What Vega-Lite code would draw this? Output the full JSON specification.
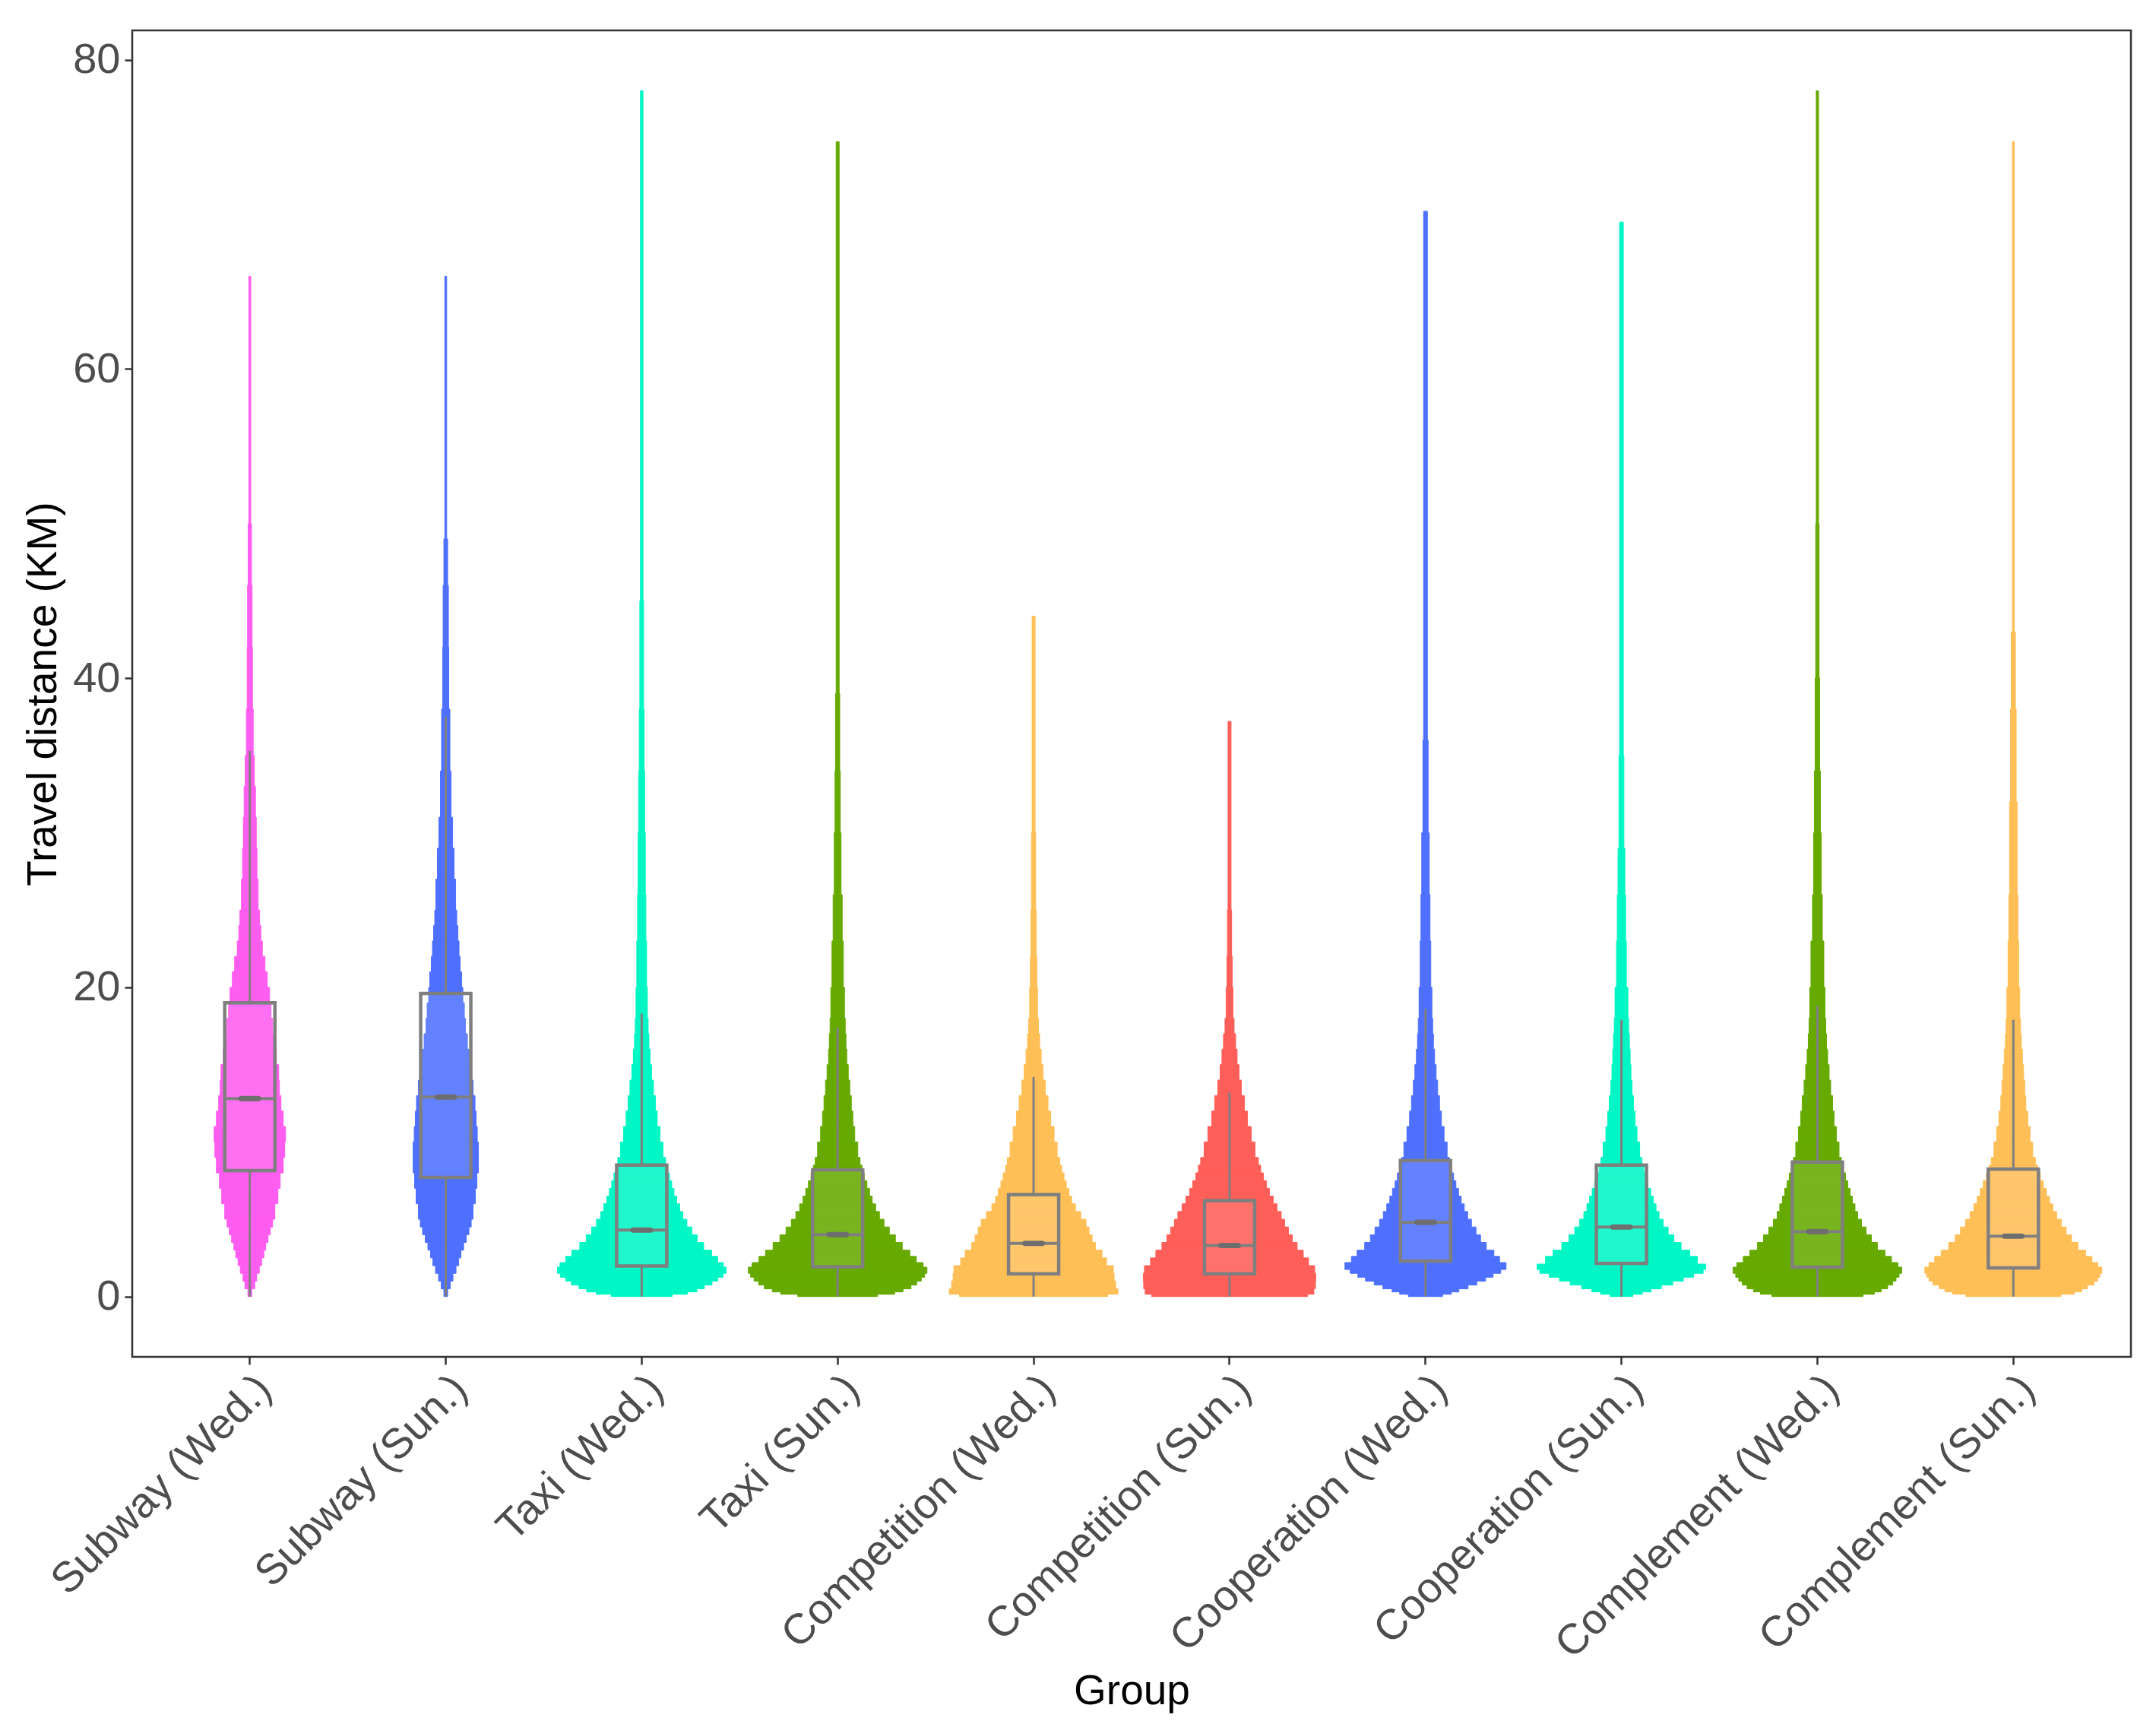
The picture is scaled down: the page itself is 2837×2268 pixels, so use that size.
{
  "$schema": "https://vega.github.io/schema/vega-lite/v6.json",
  "width": 2630,
  "height": 1745,
  "autosize": {"type": "none"},
  "padding": {"left": 174, "top": 40, "right": 33, "bottom": 483},
  "background": "white",
  "config": {
    "view": {"stroke": "#333333", "strokeWidth": 2.5},
    "font": "Liberation Sans",
    "axis": {
      "grid": false,
      "domain": false,
      "tickColor": "#333333",
      "tickWidth": 2.5,
      "tickSize": 10,
      "labelColor": "#4d4d4d",
      "labelFontSize": 56,
      "labelLimit": 1000,
      "labelFont": "Liberation Sans",
      "titleFont": "Liberation Sans",
      "titleFontSize": 55,
      "titleFontWeight": "normal",
      "titleColor": "#000000"
    }
  },
  "datasets": {
    "violin": [
      {"g":"Subway (Wed.)","y":0,"y2":0.5,"d":2},{"g":"Subway (Wed.)","y":0.5,"y2":1,"d":5.2},{"g":"Subway (Wed.)","y":1,"y2":1.5,"d":7.2},{"g":"Subway (Wed.)","y":1.5,"y2":2,"d":10},{"g":"Subway (Wed.)","y":2,"y2":2.5,"d":12.4},{"g":"Subway (Wed.)","y":2.5,"y2":3,"d":14.8},{"g":"Subway (Wed.)","y":3,"y2":3.5,"d":16.8},{"g":"Subway (Wed.)","y":3.5,"y2":4,"d":19.2},{"g":"Subway (Wed.)","y":4,"y2":4.5,"d":21.6},{"g":"Subway (Wed.)","y":4.5,"y2":5,"d":24},{"g":"Subway (Wed.)","y":5,"y2":6,"d":26.4},{"g":"Subway (Wed.)","y":6,"y2":7,"d":29.6},{"g":"Subway (Wed.)","y":7,"y2":8,"d":32},{"g":"Subway (Wed.)","y":8,"y2":9,"d":35.2},{"g":"Subway (Wed.)","y":9,"y2":10,"d":36.8},{"g":"Subway (Wed.)","y":10,"y2":11,"d":37.6},{"g":"Subway (Wed.)","y":11,"y2":12,"d":35.2},{"g":"Subway (Wed.)","y":12,"y2":13,"d":32.8},{"g":"Subway (Wed.)","y":13,"y2":14,"d":31.2},{"g":"Subway (Wed.)","y":14,"y2":15,"d":30.4},{"g":"Subway (Wed.)","y":15,"y2":16,"d":28},{"g":"Subway (Wed.)","y":16,"y2":17,"d":25.6},{"g":"Subway (Wed.)","y":17,"y2":18,"d":24},{"g":"Subway (Wed.)","y":18,"y2":19,"d":22.4},{"g":"Subway (Wed.)","y":19,"y2":20,"d":20.8},{"g":"Subway (Wed.)","y":20,"y2":21,"d":18.4},{"g":"Subway (Wed.)","y":21,"y2":22,"d":16},{"g":"Subway (Wed.)","y":22,"y2":23,"d":13.2},{"g":"Subway (Wed.)","y":23,"y2":24,"d":11.6},{"g":"Subway (Wed.)","y":24,"y2":25,"d":10.4},{"g":"Subway (Wed.)","y":25,"y2":27,"d":8.8},{"g":"Subway (Wed.)","y":27,"y2":29,"d":7.6},{"g":"Subway (Wed.)","y":29,"y2":31,"d":6.8},{"g":"Subway (Wed.)","y":31,"y2":33,"d":6},{"g":"Subway (Wed.)","y":33,"y2":35,"d":4.8},{"g":"Subway (Wed.)","y":35,"y2":38,"d":3.6},{"g":"Subway (Wed.)","y":38,"y2":42,"d":2.8},{"g":"Subway (Wed.)","y":42,"y2":46,"d":2.4},{"g":"Subway (Wed.)","y":46,"y2":50,"d":1.8},{"g":"Subway (Wed.)","y":50,"y2":66,"d":1},
      {"g":"Subway (Sun.)","y":0,"y2":0.5,"d":2},{"g":"Subway (Sun.)","y":0.5,"y2":1,"d":4.8},{"g":"Subway (Sun.)","y":1,"y2":1.5,"d":7.6},{"g":"Subway (Sun.)","y":1.5,"y2":2,"d":10.8},{"g":"Subway (Sun.)","y":2,"y2":2.5,"d":13.6},{"g":"Subway (Sun.)","y":2.5,"y2":3,"d":16},{"g":"Subway (Sun.)","y":3,"y2":3.5,"d":18.8},{"g":"Subway (Sun.)","y":3.5,"y2":4,"d":21.6},{"g":"Subway (Sun.)","y":4,"y2":4.5,"d":24.4},{"g":"Subway (Sun.)","y":4.5,"y2":5,"d":26.8},{"g":"Subway (Sun.)","y":5,"y2":6,"d":28.8},{"g":"Subway (Sun.)","y":6,"y2":7,"d":31.2},{"g":"Subway (Sun.)","y":7,"y2":8,"d":32.8},{"g":"Subway (Sun.)","y":8,"y2":9,"d":34.4},{"g":"Subway (Sun.)","y":9,"y2":10,"d":34.4},{"g":"Subway (Sun.)","y":10,"y2":11,"d":33.2},{"g":"Subway (Sun.)","y":11,"y2":12,"d":32},{"g":"Subway (Sun.)","y":12,"y2":13,"d":30.8},{"g":"Subway (Sun.)","y":13,"y2":14,"d":28.8},{"g":"Subway (Sun.)","y":14,"y2":15,"d":26.8},{"g":"Subway (Sun.)","y":15,"y2":16,"d":24.8},{"g":"Subway (Sun.)","y":16,"y2":17,"d":22.8},{"g":"Subway (Sun.)","y":17,"y2":18,"d":20.8},{"g":"Subway (Sun.)","y":18,"y2":19,"d":19.6},{"g":"Subway (Sun.)","y":19,"y2":20,"d":18},{"g":"Subway (Sun.)","y":20,"y2":21,"d":16.8},{"g":"Subway (Sun.)","y":21,"y2":22,"d":15.2},{"g":"Subway (Sun.)","y":22,"y2":23,"d":14},{"g":"Subway (Sun.)","y":23,"y2":24,"d":12.8},{"g":"Subway (Sun.)","y":24,"y2":25,"d":11.6},{"g":"Subway (Sun.)","y":25,"y2":27,"d":10.4},{"g":"Subway (Sun.)","y":27,"y2":29,"d":8.8},{"g":"Subway (Sun.)","y":29,"y2":31,"d":7.2},{"g":"Subway (Sun.)","y":31,"y2":34,"d":5.6},{"g":"Subway (Sun.)","y":34,"y2":38,"d":4.4},{"g":"Subway (Sun.)","y":38,"y2":42,"d":3.2},{"g":"Subway (Sun.)","y":42,"y2":46,"d":2.8},{"g":"Subway (Sun.)","y":46,"y2":49,"d":2},{"g":"Subway (Sun.)","y":49,"y2":66,"d":1},
      {"g":"Taxi (Wed.)","y":0,"y2":0.15,"d":32},{"g":"Taxi (Wed.)","y":0.15,"y2":0.3,"d":48},{"g":"Taxi (Wed.)","y":0.3,"y2":0.5,"d":58},{"g":"Taxi (Wed.)","y":0.5,"y2":0.75,"d":66},{"g":"Taxi (Wed.)","y":0.75,"y2":1,"d":74},{"g":"Taxi (Wed.)","y":1,"y2":1.25,"d":80},{"g":"Taxi (Wed.)","y":1.25,"y2":1.5,"d":85.6},{"g":"Taxi (Wed.)","y":1.5,"y2":1.9,"d":88.8},{"g":"Taxi (Wed.)","y":1.9,"y2":2.2,"d":86},{"g":"Taxi (Wed.)","y":2.2,"y2":2.6,"d":80},{"g":"Taxi (Wed.)","y":2.6,"y2":3,"d":73.6},{"g":"Taxi (Wed.)","y":3,"y2":3.5,"d":65.2},{"g":"Taxi (Wed.)","y":3.5,"y2":4,"d":58.4},{"g":"Taxi (Wed.)","y":4,"y2":4.5,"d":52.8},{"g":"Taxi (Wed.)","y":4.5,"y2":5,"d":47.6},{"g":"Taxi (Wed.)","y":5,"y2":5.5,"d":43.2},{"g":"Taxi (Wed.)","y":5.5,"y2":6,"d":40},{"g":"Taxi (Wed.)","y":6,"y2":6.5,"d":36.8},{"g":"Taxi (Wed.)","y":6.5,"y2":7,"d":34},{"g":"Taxi (Wed.)","y":7,"y2":7.5,"d":31.6},{"g":"Taxi (Wed.)","y":7.5,"y2":8,"d":29.2},{"g":"Taxi (Wed.)","y":8,"y2":8.5,"d":26.8},{"g":"Taxi (Wed.)","y":8.5,"y2":9,"d":25.2},{"g":"Taxi (Wed.)","y":9,"y2":10,"d":22.4},{"g":"Taxi (Wed.)","y":10,"y2":11,"d":19.2},{"g":"Taxi (Wed.)","y":11,"y2":12,"d":16.4},{"g":"Taxi (Wed.)","y":12,"y2":13,"d":14.4},{"g":"Taxi (Wed.)","y":13,"y2":14,"d":12.4},{"g":"Taxi (Wed.)","y":14,"y2":15,"d":10.4},{"g":"Taxi (Wed.)","y":15,"y2":16,"d":8.8},{"g":"Taxi (Wed.)","y":16,"y2":17,"d":7.6},{"g":"Taxi (Wed.)","y":17,"y2":18,"d":6.8},{"g":"Taxi (Wed.)","y":18,"y2":20,"d":6},{"g":"Taxi (Wed.)","y":20,"y2":23,"d":5.2},{"g":"Taxi (Wed.)","y":23,"y2":26,"d":4.4},{"g":"Taxi (Wed.)","y":26,"y2":30,"d":3.8},{"g":"Taxi (Wed.)","y":30,"y2":34,"d":3.2},{"g":"Taxi (Wed.)","y":34,"y2":38,"d":2.6},{"g":"Taxi (Wed.)","y":38,"y2":45,"d":2},{"g":"Taxi (Wed.)","y":45,"y2":78,"d":1.4},
      {"g":"Taxi (Sun.)","y":0,"y2":0.15,"d":42},{"g":"Taxi (Sun.)","y":0.15,"y2":0.3,"d":60},{"g":"Taxi (Sun.)","y":0.3,"y2":0.5,"d":68.8},{"g":"Taxi (Sun.)","y":0.5,"y2":0.75,"d":77.2},{"g":"Taxi (Sun.)","y":0.75,"y2":1,"d":83.2},{"g":"Taxi (Sun.)","y":1,"y2":1.25,"d":88},{"g":"Taxi (Sun.)","y":1.25,"y2":1.5,"d":91.6},{"g":"Taxi (Sun.)","y":1.5,"y2":1.9,"d":94},{"g":"Taxi (Sun.)","y":1.9,"y2":2.2,"d":90},{"g":"Taxi (Sun.)","y":2.2,"y2":2.6,"d":82.8},{"g":"Taxi (Sun.)","y":2.6,"y2":3,"d":76},{"g":"Taxi (Sun.)","y":3,"y2":3.5,"d":68},{"g":"Taxi (Sun.)","y":3.5,"y2":4,"d":60.8},{"g":"Taxi (Sun.)","y":4,"y2":4.5,"d":54.4},{"g":"Taxi (Sun.)","y":4.5,"y2":5,"d":48.8},{"g":"Taxi (Sun.)","y":5,"y2":5.5,"d":44},{"g":"Taxi (Sun.)","y":5.5,"y2":6,"d":40},{"g":"Taxi (Sun.)","y":6,"y2":6.5,"d":36.4},{"g":"Taxi (Sun.)","y":6.5,"y2":7,"d":33.6},{"g":"Taxi (Sun.)","y":7,"y2":7.5,"d":30.8},{"g":"Taxi (Sun.)","y":7.5,"y2":8,"d":28},{"g":"Taxi (Sun.)","y":8,"y2":8.5,"d":25.6},{"g":"Taxi (Sun.)","y":8.5,"y2":9,"d":23.6},{"g":"Taxi (Sun.)","y":9,"y2":10,"d":21.2},{"g":"Taxi (Sun.)","y":10,"y2":11,"d":18},{"g":"Taxi (Sun.)","y":11,"y2":12,"d":16},{"g":"Taxi (Sun.)","y":12,"y2":13,"d":14.4},{"g":"Taxi (Sun.)","y":13,"y2":14,"d":12.8},{"g":"Taxi (Sun.)","y":14,"y2":15,"d":11.2},{"g":"Taxi (Sun.)","y":15,"y2":16,"d":9.6},{"g":"Taxi (Sun.)","y":16,"y2":17,"d":8.8},{"g":"Taxi (Sun.)","y":17,"y2":18,"d":8},{"g":"Taxi (Sun.)","y":18,"y2":20,"d":7.2},{"g":"Taxi (Sun.)","y":20,"y2":23,"d":6},{"g":"Taxi (Sun.)","y":23,"y2":26,"d":4.8},{"g":"Taxi (Sun.)","y":26,"y2":30,"d":3.6},{"g":"Taxi (Sun.)","y":30,"y2":34,"d":2.8},{"g":"Taxi (Sun.)","y":34,"y2":39,"d":2.2},{"g":"Taxi (Sun.)","y":39,"y2":74.7,"d":1.6},
      {"g":"Competition (Wed.)","y":0,"y2":0.15,"d":78},{"g":"Competition (Wed.)","y":0.15,"y2":0.5,"d":88.8},{"g":"Competition (Wed.)","y":0.5,"y2":1,"d":86.4},{"g":"Competition (Wed.)","y":1,"y2":1.5,"d":84.8},{"g":"Competition (Wed.)","y":1.5,"y2":2,"d":84},{"g":"Competition (Wed.)","y":2,"y2":2.5,"d":76.8},{"g":"Competition (Wed.)","y":2.5,"y2":3,"d":72},{"g":"Competition (Wed.)","y":3,"y2":3.5,"d":65.2},{"g":"Competition (Wed.)","y":3.5,"y2":4,"d":61.6},{"g":"Competition (Wed.)","y":4,"y2":4.5,"d":58.4},{"g":"Competition (Wed.)","y":4.5,"y2":5,"d":55.2},{"g":"Competition (Wed.)","y":5,"y2":5.5,"d":49.6},{"g":"Competition (Wed.)","y":5.5,"y2":6,"d":44},{"g":"Competition (Wed.)","y":6,"y2":6.5,"d":40},{"g":"Competition (Wed.)","y":6.5,"y2":7,"d":37.2},{"g":"Competition (Wed.)","y":7,"y2":7.5,"d":34.4},{"g":"Competition (Wed.)","y":7.5,"y2":8,"d":32},{"g":"Competition (Wed.)","y":8,"y2":8.5,"d":29.6},{"g":"Competition (Wed.)","y":8.5,"y2":9,"d":27.6},{"g":"Competition (Wed.)","y":9,"y2":10,"d":24.8},{"g":"Competition (Wed.)","y":10,"y2":11,"d":21.6},{"g":"Competition (Wed.)","y":11,"y2":12,"d":18},{"g":"Competition (Wed.)","y":12,"y2":13,"d":15.2},{"g":"Competition (Wed.)","y":13,"y2":14,"d":12.4},{"g":"Competition (Wed.)","y":14,"y2":15,"d":10},{"g":"Competition (Wed.)","y":15,"y2":16,"d":8},{"g":"Competition (Wed.)","y":16,"y2":17,"d":6.4},{"g":"Competition (Wed.)","y":17,"y2":18,"d":5.2},{"g":"Competition (Wed.)","y":18,"y2":20,"d":4.2},{"g":"Competition (Wed.)","y":20,"y2":22,"d":3.4},{"g":"Competition (Wed.)","y":22,"y2":25,"d":2.8},{"g":"Competition (Wed.)","y":25,"y2":30,"d":2.2},{"g":"Competition (Wed.)","y":30,"y2":44,"d":1.6},
      {"g":"Competition (Sun.)","y":0,"y2":0.15,"d":82},{"g":"Competition (Sun.)","y":0.15,"y2":0.5,"d":88.8},{"g":"Competition (Sun.)","y":0.5,"y2":1,"d":90.4},{"g":"Competition (Sun.)","y":1,"y2":1.5,"d":90.8},{"g":"Competition (Sun.)","y":1.5,"y2":2,"d":89.6},{"g":"Competition (Sun.)","y":2,"y2":2.5,"d":83.2},{"g":"Competition (Sun.)","y":2.5,"y2":3,"d":77.6},{"g":"Competition (Sun.)","y":3,"y2":3.5,"d":71.2},{"g":"Competition (Sun.)","y":3.5,"y2":4,"d":66},{"g":"Competition (Sun.)","y":4,"y2":4.5,"d":62},{"g":"Competition (Sun.)","y":4.5,"y2":5,"d":58},{"g":"Competition (Sun.)","y":5,"y2":5.5,"d":54.4},{"g":"Competition (Sun.)","y":5.5,"y2":6,"d":50},{"g":"Competition (Sun.)","y":6,"y2":6.5,"d":46},{"g":"Competition (Sun.)","y":6.5,"y2":7,"d":42},{"g":"Competition (Sun.)","y":7,"y2":7.5,"d":38.8},{"g":"Competition (Sun.)","y":7.5,"y2":8,"d":35.6},{"g":"Competition (Sun.)","y":8,"y2":8.5,"d":32.8},{"g":"Competition (Sun.)","y":8.5,"y2":9,"d":30.4},{"g":"Competition (Sun.)","y":9,"y2":10,"d":26.8},{"g":"Competition (Sun.)","y":10,"y2":11,"d":22.8},{"g":"Competition (Sun.)","y":11,"y2":12,"d":18.8},{"g":"Competition (Sun.)","y":12,"y2":13,"d":15.6},{"g":"Competition (Sun.)","y":13,"y2":14,"d":12.4},{"g":"Competition (Sun.)","y":14,"y2":15,"d":10},{"g":"Competition (Sun.)","y":15,"y2":16,"d":8},{"g":"Competition (Sun.)","y":16,"y2":17,"d":6.4},{"g":"Competition (Sun.)","y":17,"y2":18,"d":4.8},{"g":"Competition (Sun.)","y":18,"y2":20,"d":3.6},{"g":"Competition (Sun.)","y":20,"y2":22,"d":2.8},{"g":"Competition (Sun.)","y":22,"y2":25,"d":2.2},{"g":"Competition (Sun.)","y":25,"y2":37.2,"d":1.6},
      {"g":"Cooperation (Wed.)","y":0,"y2":0.15,"d":18},{"g":"Cooperation (Wed.)","y":0.15,"y2":0.3,"d":27.2},{"g":"Cooperation (Wed.)","y":0.3,"y2":0.5,"d":35.2},{"g":"Cooperation (Wed.)","y":0.5,"y2":0.75,"d":44.8},{"g":"Cooperation (Wed.)","y":0.75,"y2":1,"d":54},{"g":"Cooperation (Wed.)","y":1,"y2":1.25,"d":63.2},{"g":"Cooperation (Wed.)","y":1.25,"y2":1.5,"d":71.2},{"g":"Cooperation (Wed.)","y":1.5,"y2":1.75,"d":79.2},{"g":"Cooperation (Wed.)","y":1.75,"y2":2.2,"d":84.8},{"g":"Cooperation (Wed.)","y":2.2,"y2":2.6,"d":78},{"g":"Cooperation (Wed.)","y":2.6,"y2":3,"d":72},{"g":"Cooperation (Wed.)","y":3,"y2":3.5,"d":64},{"g":"Cooperation (Wed.)","y":3.5,"y2":4,"d":58},{"g":"Cooperation (Wed.)","y":4,"y2":4.5,"d":53.2},{"g":"Cooperation (Wed.)","y":4.5,"y2":5,"d":48.4},{"g":"Cooperation (Wed.)","y":5,"y2":5.5,"d":44.4},{"g":"Cooperation (Wed.)","y":5.5,"y2":6,"d":40.8},{"g":"Cooperation (Wed.)","y":6,"y2":6.5,"d":37.6},{"g":"Cooperation (Wed.)","y":6.5,"y2":7,"d":34.8},{"g":"Cooperation (Wed.)","y":7,"y2":7.5,"d":32},{"g":"Cooperation (Wed.)","y":7.5,"y2":8,"d":29.6},{"g":"Cooperation (Wed.)","y":8,"y2":8.5,"d":27.2},{"g":"Cooperation (Wed.)","y":8.5,"y2":9,"d":25.2},{"g":"Cooperation (Wed.)","y":9,"y2":10,"d":22.8},{"g":"Cooperation (Wed.)","y":10,"y2":11,"d":19.6},{"g":"Cooperation (Wed.)","y":11,"y2":12,"d":16.8},{"g":"Cooperation (Wed.)","y":12,"y2":13,"d":14.8},{"g":"Cooperation (Wed.)","y":13,"y2":14,"d":12.8},{"g":"Cooperation (Wed.)","y":14,"y2":15,"d":11.2},{"g":"Cooperation (Wed.)","y":15,"y2":16,"d":9.6},{"g":"Cooperation (Wed.)","y":16,"y2":17,"d":8.4},{"g":"Cooperation (Wed.)","y":17,"y2":18,"d":7.6},{"g":"Cooperation (Wed.)","y":18,"y2":20,"d":6.8},{"g":"Cooperation (Wed.)","y":20,"y2":23,"d":5.6},{"g":"Cooperation (Wed.)","y":23,"y2":26,"d":4.8},{"g":"Cooperation (Wed.)","y":26,"y2":30,"d":4},{"g":"Cooperation (Wed.)","y":30,"y2":36,"d":2.8},{"g":"Cooperation (Wed.)","y":36,"y2":70.2,"d":2},
      {"g":"Cooperation (Sun.)","y":0,"y2":0.15,"d":12},{"g":"Cooperation (Sun.)","y":0.15,"y2":0.3,"d":22},{"g":"Cooperation (Sun.)","y":0.3,"y2":0.5,"d":31.2},{"g":"Cooperation (Sun.)","y":0.5,"y2":0.75,"d":42},{"g":"Cooperation (Sun.)","y":0.75,"y2":1,"d":54},{"g":"Cooperation (Sun.)","y":1,"y2":1.25,"d":65.2},{"g":"Cooperation (Sun.)","y":1.25,"y2":1.5,"d":76},{"g":"Cooperation (Sun.)","y":1.5,"y2":1.75,"d":86},{"g":"Cooperation (Sun.)","y":1.75,"y2":2.1,"d":88.8},{"g":"Cooperation (Sun.)","y":2.1,"y2":2.6,"d":80},{"g":"Cooperation (Sun.)","y":2.6,"y2":3,"d":72},{"g":"Cooperation (Sun.)","y":3,"y2":3.5,"d":62.8},{"g":"Cooperation (Sun.)","y":3.5,"y2":4,"d":55.2},{"g":"Cooperation (Sun.)","y":4,"y2":4.5,"d":49.2},{"g":"Cooperation (Sun.)","y":4.5,"y2":5,"d":44},{"g":"Cooperation (Sun.)","y":5,"y2":5.5,"d":39.6},{"g":"Cooperation (Sun.)","y":5.5,"y2":6,"d":36.4},{"g":"Cooperation (Sun.)","y":6,"y2":6.5,"d":33.6},{"g":"Cooperation (Sun.)","y":6.5,"y2":7,"d":30.8},{"g":"Cooperation (Sun.)","y":7,"y2":7.5,"d":28},{"g":"Cooperation (Sun.)","y":7.5,"y2":8,"d":25.6},{"g":"Cooperation (Sun.)","y":8,"y2":8.5,"d":23.6},{"g":"Cooperation (Sun.)","y":8.5,"y2":9,"d":21.6},{"g":"Cooperation (Sun.)","y":9,"y2":10,"d":19.2},{"g":"Cooperation (Sun.)","y":10,"y2":11,"d":16.4},{"g":"Cooperation (Sun.)","y":11,"y2":12,"d":14.4},{"g":"Cooperation (Sun.)","y":12,"y2":13,"d":12.8},{"g":"Cooperation (Sun.)","y":13,"y2":14,"d":11.2},{"g":"Cooperation (Sun.)","y":14,"y2":15,"d":10},{"g":"Cooperation (Sun.)","y":15,"y2":16,"d":9.2},{"g":"Cooperation (Sun.)","y":16,"y2":17,"d":8.4},{"g":"Cooperation (Sun.)","y":17,"y2":18,"d":7.6},{"g":"Cooperation (Sun.)","y":18,"y2":20,"d":6.8},{"g":"Cooperation (Sun.)","y":20,"y2":23,"d":5.2},{"g":"Cooperation (Sun.)","y":23,"y2":26,"d":4.4},{"g":"Cooperation (Sun.)","y":26,"y2":29,"d":3.6},{"g":"Cooperation (Sun.)","y":29,"y2":35,"d":2.6},{"g":"Cooperation (Sun.)","y":35,"y2":69.5,"d":2},
      {"g":"Complement (Wed.)","y":0,"y2":0.15,"d":48},{"g":"Complement (Wed.)","y":0.15,"y2":0.3,"d":60},{"g":"Complement (Wed.)","y":0.3,"y2":0.5,"d":67.2},{"g":"Complement (Wed.)","y":0.5,"y2":0.75,"d":74},{"g":"Complement (Wed.)","y":0.75,"y2":1,"d":79.2},{"g":"Complement (Wed.)","y":1,"y2":1.25,"d":82.8},{"g":"Complement (Wed.)","y":1.25,"y2":1.5,"d":86},{"g":"Complement (Wed.)","y":1.5,"y2":1.9,"d":88.8},{"g":"Complement (Wed.)","y":1.9,"y2":2.2,"d":84.8},{"g":"Complement (Wed.)","y":2.2,"y2":2.6,"d":78},{"g":"Complement (Wed.)","y":2.6,"y2":3,"d":71.2},{"g":"Complement (Wed.)","y":3,"y2":3.5,"d":63.2},{"g":"Complement (Wed.)","y":3.5,"y2":4,"d":56.8},{"g":"Complement (Wed.)","y":4,"y2":4.5,"d":51.2},{"g":"Complement (Wed.)","y":4.5,"y2":5,"d":46.4},{"g":"Complement (Wed.)","y":5,"y2":5.5,"d":42.4},{"g":"Complement (Wed.)","y":5.5,"y2":6,"d":39.6},{"g":"Complement (Wed.)","y":6,"y2":6.5,"d":36.8},{"g":"Complement (Wed.)","y":6.5,"y2":7,"d":34.4},{"g":"Complement (Wed.)","y":7,"y2":7.5,"d":32},{"g":"Complement (Wed.)","y":7.5,"y2":8,"d":29.6},{"g":"Complement (Wed.)","y":8,"y2":8.5,"d":27.2},{"g":"Complement (Wed.)","y":8.5,"y2":9,"d":25.2},{"g":"Complement (Wed.)","y":9,"y2":10,"d":22.8},{"g":"Complement (Wed.)","y":10,"y2":11,"d":20},{"g":"Complement (Wed.)","y":11,"y2":12,"d":17.6},{"g":"Complement (Wed.)","y":12,"y2":13,"d":16},{"g":"Complement (Wed.)","y":13,"y2":14,"d":14},{"g":"Complement (Wed.)","y":14,"y2":15,"d":12.4},{"g":"Complement (Wed.)","y":15,"y2":16,"d":10.8},{"g":"Complement (Wed.)","y":16,"y2":17,"d":9.6},{"g":"Complement (Wed.)","y":17,"y2":18,"d":8.8},{"g":"Complement (Wed.)","y":18,"y2":20,"d":8},{"g":"Complement (Wed.)","y":20,"y2":23,"d":6.8},{"g":"Complement (Wed.)","y":23,"y2":26,"d":5.2},{"g":"Complement (Wed.)","y":26,"y2":30,"d":4},{"g":"Complement (Wed.)","y":30,"y2":34,"d":3.2},{"g":"Complement (Wed.)","y":34,"y2":40,"d":2.4},{"g":"Complement (Wed.)","y":40,"y2":50,"d":1.8},{"g":"Complement (Wed.)","y":50,"y2":78,"d":1.2},
      {"g":"Complement (Sun.)","y":0,"y2":0.15,"d":50},{"g":"Complement (Sun.)","y":0.15,"y2":0.3,"d":64},{"g":"Complement (Sun.)","y":0.3,"y2":0.5,"d":72},{"g":"Complement (Sun.)","y":0.5,"y2":0.75,"d":78},{"g":"Complement (Sun.)","y":0.75,"y2":1,"d":84.8},{"g":"Complement (Sun.)","y":1,"y2":1.25,"d":88.8},{"g":"Complement (Sun.)","y":1.25,"y2":1.5,"d":91.2},{"g":"Complement (Sun.)","y":1.5,"y2":1.9,"d":93.2},{"g":"Complement (Sun.)","y":1.9,"y2":2.2,"d":88.8},{"g":"Complement (Sun.)","y":2.2,"y2":2.6,"d":82.8},{"g":"Complement (Sun.)","y":2.6,"y2":3,"d":76},{"g":"Complement (Sun.)","y":3,"y2":3.5,"d":68},{"g":"Complement (Sun.)","y":3.5,"y2":4,"d":61.2},{"g":"Complement (Sun.)","y":4,"y2":4.5,"d":55.6},{"g":"Complement (Sun.)","y":4.5,"y2":5,"d":50.4},{"g":"Complement (Sun.)","y":5,"y2":5.5,"d":45.6},{"g":"Complement (Sun.)","y":5.5,"y2":6,"d":41.6},{"g":"Complement (Sun.)","y":6,"y2":6.5,"d":38},{"g":"Complement (Sun.)","y":6.5,"y2":7,"d":34.8},{"g":"Complement (Sun.)","y":7,"y2":7.5,"d":31.6},{"g":"Complement (Sun.)","y":7.5,"y2":8,"d":28.4},{"g":"Complement (Sun.)","y":8,"y2":8.5,"d":25.6},{"g":"Complement (Sun.)","y":8.5,"y2":9,"d":23.2},{"g":"Complement (Sun.)","y":9,"y2":10,"d":20.4},{"g":"Complement (Sun.)","y":10,"y2":11,"d":17.6},{"g":"Complement (Sun.)","y":11,"y2":12,"d":15.2},{"g":"Complement (Sun.)","y":12,"y2":13,"d":13.2},{"g":"Complement (Sun.)","y":13,"y2":14,"d":12},{"g":"Complement (Sun.)","y":14,"y2":15,"d":10.8},{"g":"Complement (Sun.)","y":15,"y2":16,"d":9.6},{"g":"Complement (Sun.)","y":16,"y2":17,"d":8.4},{"g":"Complement (Sun.)","y":17,"y2":18,"d":7.6},{"g":"Complement (Sun.)","y":18,"y2":20,"d":6.8},{"g":"Complement (Sun.)","y":20,"y2":23,"d":5.6},{"g":"Complement (Sun.)","y":23,"y2":26,"d":4.8},{"g":"Complement (Sun.)","y":26,"y2":32,"d":4},{"g":"Complement (Sun.)","y":32,"y2":38,"d":3},{"g":"Complement (Sun.)","y":38,"y2":43,"d":2.2},{"g":"Complement (Sun.)","y":43,"y2":74.7,"d":1}
    ],
    "box": [
      {"g":"Subway (Wed.)","lo":0,"q1":8.15,"med":12.8,"q3":19.0,"hi":35.3},
      {"g":"Subway (Sun.)","lo":0,"q1":7.7,"med":12.9,"q3":19.6,"hi":37.5},
      {"g":"Taxi (Wed.)","lo":0,"q1":1.98,"med":4.3,"q3":8.5,"hi":18.3},
      {"g":"Taxi (Sun.)","lo":0,"q1":1.93,"med":4.0,"q3":8.2,"hi":17.4},
      {"g":"Competition (Wed.)","lo":0,"q1":1.47,"med":3.44,"q3":6.6,"hi":14.2},
      {"g":"Competition (Sun.)","lo":0,"q1":1.47,"med":3.3,"q3":6.2,"hi":13.2},
      {"g":"Cooperation (Wed.)","lo":0,"q1":2.3,"med":4.8,"q3":8.8,"hi":18.6},
      {"g":"Cooperation (Sun.)","lo":0,"q1":2.15,"med":4.5,"q3":8.5,"hi":17.9},
      {"g":"Complement (Wed.)","lo":0,"q1":1.9,"med":4.2,"q3":8.7,"hi":18.8},
      {"g":"Complement (Sun.)","lo":0,"q1":1.85,"med":3.9,"q3":8.25,"hi":17.9}
    ]
  },
  "encoding": {
    "x": {
      "field": "g",
      "type": "nominal",
      "title": "Group",
      "scale": {
        "type": "band",
        "domain": ["Subway (Wed.)","Subway (Sun.)","Taxi (Wed.)","Taxi (Sun.)","Competition (Wed.)","Competition (Sun.)","Cooperation (Wed.)","Cooperation (Sun.)","Complement (Wed.)","Complement (Sun.)"],
        "paddingInner": 0,
        "paddingOuter": 0.1
      },
      "axis": {"labelAngle": -45, "labelAlign": "right", "labelBaseline": "top", "labelPadding": 4, "titlePadding": 213}
    }
  },
  "layer": [
    {
      "data": {"name": "violin"},
      "mark": {"type": "bar", "strokeWidth": 1},
      "encoding": {
        "y": {"field": "y", "type": "quantitative", "title": "Travel distance (KM)",
              "scale": {"domain": [-3.9, 81.9], "nice": false, "zero": false},
              "axis": {"values": [0, 20, 40, 60, 80], "labelPadding": 6, "titlePadding": 10}},
        "y2": {"field": "y2"},
        "size": {"field": "d", "type": "quantitative", "scale": {"type": "linear", "domain": [0, 100], "range": [0, 250], "zero": true}, "legend": null},
        "color": {"field": "g", "type": "nominal", "legend": null,
                  "scale": {"domain": ["Subway (Wed.)","Subway (Sun.)","Taxi (Wed.)","Taxi (Sun.)","Competition (Wed.)","Competition (Sun.)","Cooperation (Wed.)","Cooperation (Sun.)","Complement (Wed.)","Complement (Sun.)"],
                            "range": ["#ff5cf0","#4f70ff","#00f7c5","#66aa00","#ffbf57","#ff5f58","#4f70ff","#00f7c5","#66aa00","#ffbf57"]}},
        "stroke": {"field": "g", "type": "nominal", "legend": null,
                  "scale": {"domain": ["Subway (Wed.)","Subway (Sun.)","Taxi (Wed.)","Taxi (Sun.)","Competition (Wed.)","Competition (Sun.)","Cooperation (Wed.)","Cooperation (Sun.)","Complement (Wed.)","Complement (Sun.)"],
                            "range": ["#ff5cf0","#4f70ff","#00f7c5","#66aa00","#ffbf57","#ff5f58","#4f70ff","#00f7c5","#66aa00","#ffbf57"]}}
      }
    },
    {
      "data": {"name": "box"},
      "mark": {"type": "rule", "stroke": "#7f7f7f", "strokeWidth": 3},
      "encoding": {
        "y": {"field": "lo", "type": "quantitative", "title": "Travel distance (KM)"},
        "y2": {"field": "q1"}
      }
    },
    {
      "data": {"name": "box"},
      "mark": {"type": "rule", "stroke": "#7f7f7f", "strokeWidth": 3},
      "encoding": {
        "y": {"field": "q3", "type": "quantitative", "title": "Travel distance (KM)"},
        "y2": {"field": "hi"}
      }
    },
    {
      "data": {"name": "box"},
      "mark": {"type": "bar", "fill": "white", "fillOpacity": 0.12, "stroke": "#7f7f7f", "strokeWidth": 4.5, "width": {"band": 0.256}},
      "encoding": {
        "y": {"field": "q1", "type": "quantitative", "title": "Travel distance (KM)"},
        "y2": {"field": "q3"}
      }
    },
    {
      "data": {"name": "box"},
      "mark": {"type": "tick", "color": "#7f7f7f", "thickness": 4, "size": 66, "opacity": 1},
      "encoding": {
        "y": {"field": "med", "type": "quantitative", "title": "Travel distance (KM)"}
      }
    },
    {
      "data": {"name": "box"},
      "mark": {"type": "tick", "color": "#6e6e6e", "thickness": 7, "size": 30, "cornerRadius": 3.5, "opacity": 1},
      "encoding": {
        "y": {"field": "med", "type": "quantitative", "title": "Travel distance (KM)"}
      }
    }
  ]
}
